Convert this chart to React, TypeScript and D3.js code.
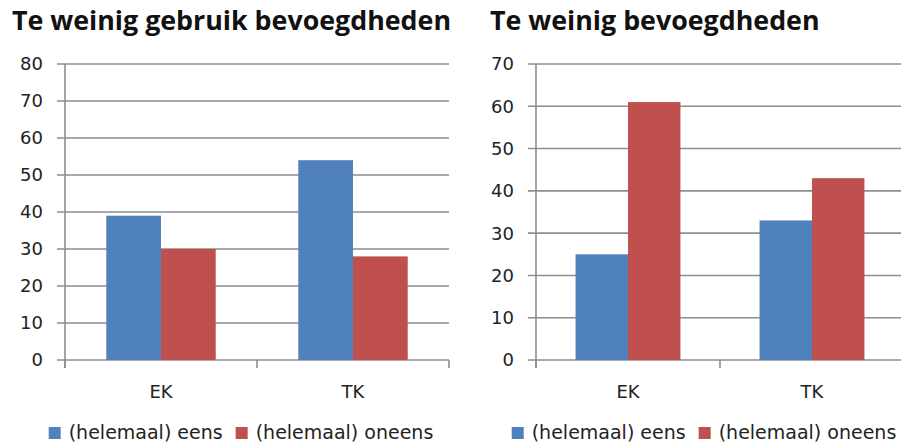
import React, { useEffect, useRef } from 'react';
import * as d3 from 'd3';

const categories = ['EK', 'TK'];
const seriesNames = ['(helemaal) eens', '(helemaal) oneens'];
const seriesColors = ['#4f81bd', '#c0504d'];

const gebruikEens = [39, 54];
const gebruikOneens = [30, 28];
const bevoegdEens = [25, 33];
const bevoegdOneens = [61, 43];

const leftTicks = [0, 10, 20, 30, 40, 50, 60, 70, 80];
const rightTicks = [0, 10, 20, 30, 40, 50, 60, 70];

const labelFont = 'DejaVu Sans, Verdana, sans-serif';
const titleFont = '"Open Sans", Lato, sans-serif';

function drawPanel(svg, opts) {
  const { title, titleX, left, right, top, bottom, ticks, eens, oneens } = opts;
  const g = svg.append('g');
  const grid = '#8e8e8e';

  g.append('text')
    .attr('x', titleX)
    .attr('y', 30)
    .attr('font-family', titleFont)
    .attr('font-weight', 700)
    .attr('font-size', 26.8)
    .attr('fill', '#111')
    .text(title);

  const y = d3.scaleLinear().domain([0, d3.max(ticks)]).range([bottom, top]);
  const x0 = d3.scaleBand().domain(categories).range([left, right]).paddingInner(0.43).paddingOuter(0.215);
  const x1 = d3.scaleBand().domain(seriesNames).range([0, x0.bandwidth()]);

  // gridlines + y ticks
  g.selectAll('line.grid')
    .data(ticks)
    .enter()
    .append('line')
    .attr('x1', left - 8)
    .attr('x2', right)
    .attr('y1', d => y(d))
    .attr('y2', d => y(d))
    .attr('stroke', grid)
    .attr('stroke-width', 1.6);

  g.selectAll('text.ytick')
    .data(ticks)
    .enter()
    .append('text')
    .attr('x', left - 22)
    .attr('y', d => y(d))
    .attr('dy', '0.36em')
    .attr('text-anchor', 'end')
    .attr('font-family', labelFont)
    .attr('font-size', 18)
    .attr('fill', '#222')
    .text(d => d);

  const rows = categories.map((c, i) => ({ cat: c, vals: [eens[i], oneens[i]] }));
  const grp = g.selectAll('g.cat')
    .data(rows)
    .enter()
    .append('g')
    .attr('transform', d => `translate(${x0(d.cat)},0)`);

  grp.selectAll('rect')
    .data(d => d.vals.map((v, k) => ({ name: seriesNames[k], v, k })))
    .enter()
    .append('rect')
    .attr('x', d => x1(d.name))
    .attr('width', x1.bandwidth())
    .attr('y', d => y(d.v))
    .attr('height', d => y(0) - y(d.v))
    .attr('fill', d => seriesColors[d.k]);

  // axes
  g.append('line')
    .attr('x1', left).attr('x2', left)
    .attr('y1', top).attr('y2', bottom + 8)
    .attr('stroke', grid).attr('stroke-width', 1.6);

  const bounds = [left, left + (right - left) / 2, right];
  g.selectAll('line.xtick')
    .data(bounds)
    .enter()
    .append('line')
    .attr('x1', d => d).attr('x2', d => d)
    .attr('y1', bottom).attr('y2', bottom + 8)
    .attr('stroke', grid).attr('stroke-width', 1.6);

  g.selectAll('text.xcat')
    .data(categories)
    .enter()
    .append('text')
    .attr('x', d => x0(d) + x0.bandwidth() / 2)
    .attr('y', 398)
    .attr('text-anchor', 'middle')
    .attr('font-family', labelFont)
    .attr('font-size', 18)
    .attr('fill', '#222')
    .text(d => d);

  // legend
  const leg = g.append('g');
  let cx = 0;
  seriesNames.forEach((name, k) => {
    leg.append('rect')
      .attr('x', cx).attr('y', 427)
      .attr('width', 12).attr('height', 12)
      .attr('fill', seriesColors[k]);
    const t = leg.append('text')
      .attr('x', cx + 20)
      .attr('y', 439)
      .attr('font-family', labelFont)
      .attr('font-size', 19)
      .attr('fill', '#222')
      .text(name);
    cx += 20 + t.node().getComputedTextLength() + 13;
  });
  const legW = cx - 13;
  const center = (left + right) / 2 - 16;
  leg.attr('transform', `translate(${center - legW / 2},0)`);
}

export default function App() {
  const ref = useRef(null);

  useEffect(() => {
    const svg = d3.select(ref.current);
    svg.selectAll('*').remove();
    drawPanel(svg, {
      title: 'Te weinig gebruik bevoegdheden',
      titleX: 12,
      left: 65, right: 449, top: 64, bottom: 360,
      ticks: leftTicks,
      eens: gebruikEens,
      oneens: gebruikOneens,
    });
    drawPanel(svg, {
      title: 'Te weinig bevoegdheden',
      titleX: 490,
      left: 536, right: 904, top: 64, bottom: 360,
      ticks: rightTicks,
      eens: bevoegdEens,
      oneens: bevoegdOneens,
    });
  }, []);

  return (
    <svg
      ref={ref}
      width={901}
      height={443}
      style={{ position: 'absolute', left: 0, top: 0, background: '#fff' }}
    />
  );
}
